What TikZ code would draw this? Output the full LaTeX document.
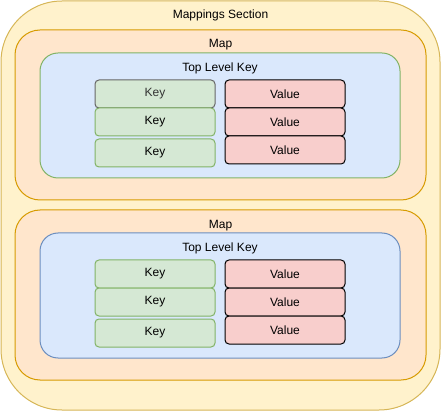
\documentclass[tikz,border=0pt]{standalone}
\usepackage{fontspec}
\setmainfont{Liberation Sans}
\usetikzlibrary{positioning}
\definecolor{secfill}{HTML}{FFF2CC}
\definecolor{secline}{HTML}{D6B656}
\definecolor{mapfill}{HTML}{FFE6CC}
\definecolor{mapline}{HTML}{D79B00}
\definecolor{tlkfill}{HTML}{DAE8FC}
\definecolor{tlkline}{HTML}{6C8EBF}
\definecolor{keyfill}{HTML}{D5E8D4}
\definecolor{keyline}{HTML}{82B366}
\definecolor{valfill}{HTML}{F8CECC}

\begin{document}
\begin{tikzpicture}[x=1pt, y=-1pt, line width=1pt,
    every node/.style={inner sep=0pt, outer sep=0pt, font=\fontsize{12}{14}\selectfont},
    secbox/.style={draw=secline, fill=secfill, rounded corners=61pt, minimum width=439pt, minimum height=409pt},
    mapbox/.style={draw=mapline, fill=mapfill, rounded corners=25pt, minimum width=411pt, minimum height=170pt},
    tlkbox/.style={draw=tlkline, fill=tlkfill, rounded corners=18pt, minimum width=360pt, minimum height=125pt},
    keybox/.style={draw=keyline, fill=keyfill, rounded corners=4pt, minimum width=120pt, minimum height=28pt},
    valbox/.style={draw=black, fill=valfill, rounded corners=4pt, minimum width=120pt, minimum height=28pt},
    lbl/.style={text height=9pt, text depth=2.5pt}]
    \useasboundingbox (0,0) rectangle (441,411);
    \node[secbox] (sec) at (220.5,205.5) {};
    \node[lbl] (seclbl) at (220.5,15) {Mappings Section};
    % first map
    \node[mapbox] (mapA) at (220.5,115) {};
    \node[lbl] (mapAlbl) at (220.5,44) {Map};
    \node[tlkbox, draw=keyline] (tlkA) at (220,115.5) {};
    \node[lbl] (tlkAlbl) at (220,68) {Top Level Key};
    \node[keybox, draw=black!60, text=black!80] (kA1) at (155,94) {Key};
    \node[keybox, below=0pt of kA1] (kA2) {Key};
    \node[keybox, below=3pt of kA2] (kA3) {Key};
    \node[valbox, right=10pt of kA1] (vA1) {Value};
    \node[valbox, below=0pt of vA1] (vA2) {Value};
    \node[valbox, below=0pt of vA2] (vA3) {Value};
    % second map
    \node[mapbox] (mapB) at (220.5,295) {};
    \node[lbl] (mapBlbl) at (220.5,225) {Map};
    \node[tlkbox] (tlkB) at (220,295.5) {};
    \node[lbl] (tlkBlbl) at (220,248) {Top Level Key};
    \node[keybox] (kB1) at (155,274) {Key};
    \node[keybox, below=0pt of kB1] (kB2) {Key};
    \node[keybox, below=3pt of kB2] (kB3) {Key};
    \node[valbox, right=10pt of kB1] (vB1) {Value};
    \node[valbox, below=0pt of vB1] (vB2) {Value};
    \node[valbox, below=0pt of vB2] (vB3) {Value};
\end{tikzpicture}
\end{document}
